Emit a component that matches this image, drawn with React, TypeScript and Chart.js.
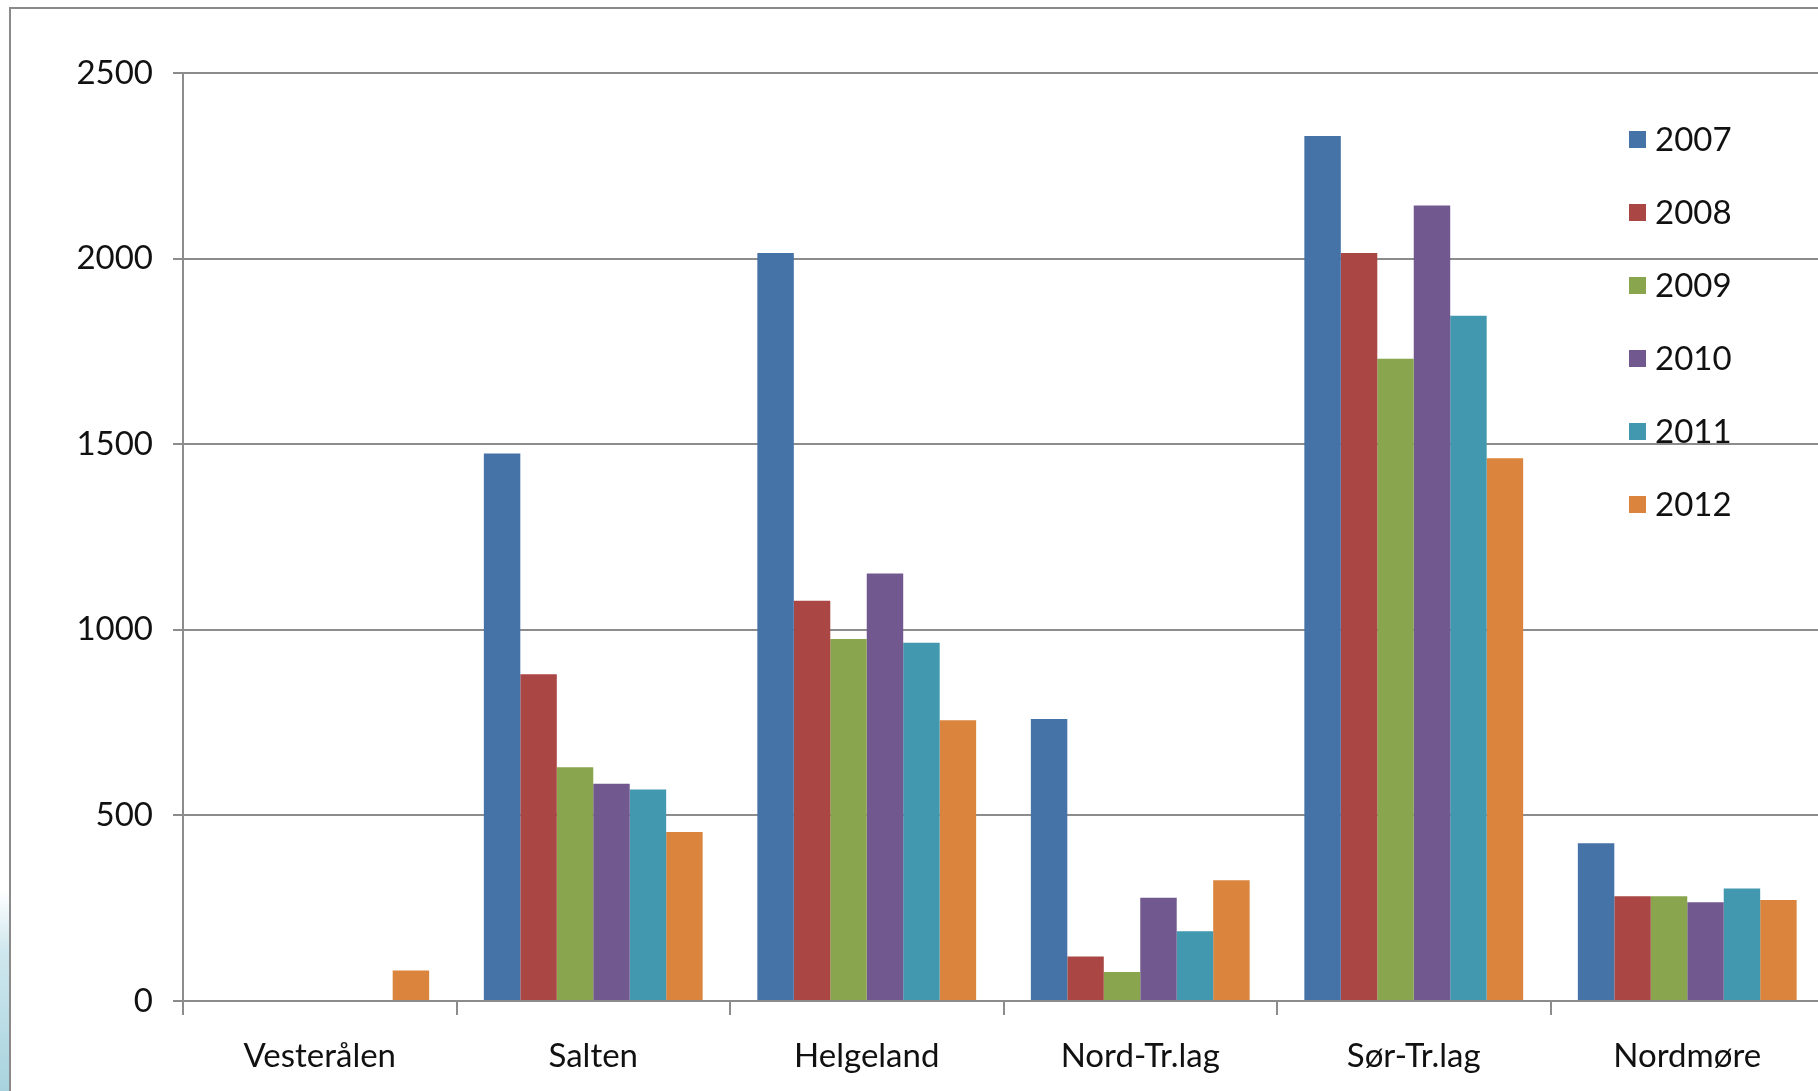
import React, { useEffect, useRef } from "react";
import { Chart, registerables } from "chart.js";

Chart.register(...registerables);

const categories = ["Vesterålen", "Salten", "Helgeland", "Nord-Tr.lag", "Sør-Tr.lag", "Nordmøre"];
const years = ["2007", "2008", "2009", "2010", "2011", "2012"];
const values2007 = [0, 1475, 2015, 760, 2330, 425];
const values2008 = [0, 880, 1078, 120, 2015, 282];
const values2009 = [0, 630, 975, 78, 1730, 282];
const values2010 = [0, 585, 1152, 278, 2143, 266];
const values2011 = [0, 570, 965, 188, 1846, 303];
const values2012 = [82, 455, 756, 325, 1462, 272];
const seriesValues = [values2007, values2008, values2009, values2010, values2011, values2012];
const colors = ["#4572A7", "#AA4643", "#89A54E", "#71588F", "#4198AF", "#DB843D"];
const yTicks = [0, 500, 1000, 1500, 2000, 2500];

const FONT = "Lato, 'Open Sans', sans-serif";
const FONT_SIZE = 33;

const legendPlugin = {
  id: "sideLegend",
  afterDraw(chart: any) {
    const ctx = chart.ctx;
    ctx.save();
    ctx.font = `${FONT_SIZE}px ${FONT}`;
    ctx.textBaseline = "middle";
    ctx.textAlign = "left";
    chart.data.datasets.forEach((ds: any, i: number) => {
      const y = 139 + i * 73;
      ctx.fillStyle = ds.backgroundColor;
      ctx.fillRect(1629, y - 8, 17, 17);
      ctx.fillStyle = "#111";
      ctx.fillText(ds.label, 1655, y + 1);
    });
    ctx.restore();
  },
};

export default function App() {
  const ref = useRef<HTMLCanvasElement>(null);
  useEffect(() => {
    if (!ref.current) return;
    const chart = new Chart(ref.current, {
      type: "bar",
      data: {
        labels: categories,
        datasets: years.map((y, i) => ({
          label: y,
          data: seriesValues[i],
          backgroundColor: colors[i],
          borderWidth: 0,
          categoryPercentage: 0.8,
          barPercentage: 1.0,
        })),
      },
      options: {
        animation: false,
        responsive: false,
        devicePixelRatio: 1,
        layout: { padding: { top: 73, right: 0, left: 0, bottom: 0 } },
        plugins: { legend: { display: false }, tooltip: { enabled: false } },
        scales: {
          x: {
            offset: true,
            grid: {
              offset: true,
              drawOnChartArea: false,
              drawTicks: true,
              tickLength: 14,
              color: "#8c8c8c",
              lineWidth: 2,
            },
            border: { display: true, color: "#8c8c8c", width: 2 },
            ticks: { color: "#111", font: { family: FONT, size: FONT_SIZE }, padding: 22 },
            afterFit: (s: any) => { s.height = 1091 - 1001; },
          },
          y: {
            min: 0,
            max: 2500,
            afterBuildTicks: (s: any) => { s.ticks = yTicks.map((v) => ({ value: v })); },
            grid: { color: "#8c8c8c", lineWidth: 2, tickLength: 10, drawTicks: true },
            border: { display: true, color: "#8c8c8c", width: 2 },
            ticks: {
              color: "#111",
              font: { family: FONT, size: FONT_SIZE },
              padding: 20,
              callback: (v: any) => String(v),
            },
            afterFit: (s: any) => { s.width = 183; },
          },
        },
      },
      plugins: [legendPlugin],
    });
    return () => chart.destroy();
  }, []);

  return (
    <div style={{ position: "fixed", left: 0, top: 0, width: 1818, height: 1091, overflow: "hidden", background: "#fff" }}>
      <canvas ref={ref} width={1824} height={1091} style={{ position: "absolute", left: 0, top: 0, width: 1824, height: 1091 }} />
      <div style={{ position: "absolute", left: 9, top: 7, right: 0, height: 2, background: "#8a8a8a" }} />
      <div style={{ position: "absolute", left: 9, top: 7, bottom: 0, width: 2, background: "#8a8a8a" }} />
      <div style={{ position: "absolute", left: 0, top: 890, bottom: 0, width: 9, background: "linear-gradient(180deg, #ffffff 0%, #cfe7ee 30%, #a8d3de 100%)" }} />
    </div>
  );
}
